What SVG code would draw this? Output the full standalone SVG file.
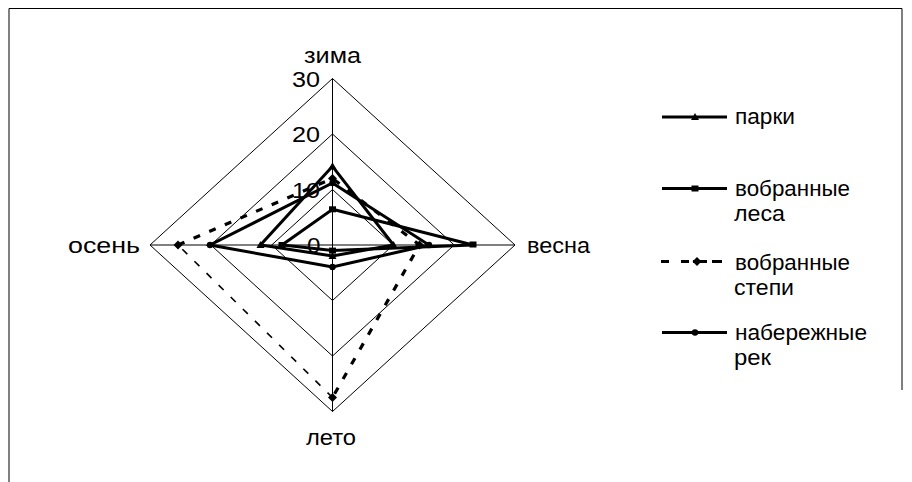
<svg xmlns="http://www.w3.org/2000/svg" width="912" height="482" viewBox="0 0 912 482">
<style>
text{font-family:"Liberation Sans",Arial,sans-serif;font-size:22px;fill:#000}
.grid{fill:none;stroke:#000;stroke-width:1}
.s{fill:none;stroke:#000;stroke-width:3;stroke-linejoin:miter}
.d{fill:none;stroke:#000;stroke-width:3.2;stroke-dasharray:7 10}
.dt{fill:none;stroke:#000;stroke-width:1.6;stroke-dasharray:7 10}
</style>
<defs>
<path id="tri" d="M0,-4 L4,3 L-4,3 Z"/>
<rect id="sq" x="-3.5" y="-3" width="7" height="6"/>
<path id="dia" d="M0,-4.5 L4.5,0 L0,4.5 L-4.5,0 Z"/>
<circle id="cir" r="3.2"/>
</defs>
<rect width="912" height="482" fill="#fff"/>
<g id="frame" fill="none" stroke="#000" stroke-width="1">
<path d="M9,482 L9,8.5 L902,8.5 L902,390"/>
</g>
<g id="grid">
<path class="grid" d="M332.5,189.5 L393.3,245 L332.5,300.5 L271.7,245 Z"/>
<path class="grid" d="M332.5,134 L454.2,245 L332.5,356 L210.8,245 Z"/>
<path class="grid" d="M332.5,78.5 L515,245 L332.5,411.5 L150,245 Z"/>
<path class="grid" d="M332.5,78.5 L332.5,411.5 M150,245 L515,245"/>
</g>
<g id="axis-labels">
<text x="304" y="63" textLength="57" lengthAdjust="spacingAndGlyphs">зима</text>
<text x="527" y="253" textLength="63" lengthAdjust="spacingAndGlyphs">весна</text>
<text x="306" y="445" textLength="50" lengthAdjust="spacingAndGlyphs">лето</text>
<text x="68" y="253" textLength="72" lengthAdjust="spacingAndGlyphs">осень</text>
<text x="292" y="87" textLength="28" lengthAdjust="spacingAndGlyphs">30</text>
<text x="292" y="142" textLength="28" lengthAdjust="spacingAndGlyphs">20</text>
<text x="292" y="198" textLength="28" lengthAdjust="spacingAndGlyphs">10</text>
<text x="307" y="253" textLength="13.5" lengthAdjust="spacingAndGlyphs">0</text>
</g>
<g id="connectors">
<g id="series-parki">
<path class="s" d="M332.5,166.3 L393.5,245 L332.5,256 L260.5,245 Z"/>
<use href="#tri" x="332.5" y="166.3"/><use href="#tri" x="393.5" y="245"/><use href="#tri" x="332.5" y="256"/><use href="#tri" x="260.5" y="245"/>
</g>
<g id="series-lesa">
<path class="s" d="M332.5,209.3 L473,245 L332.5,250.6 L282,245 Z"/>
<use href="#sq" x="332.5" y="209.3"/><use href="#sq" x="473" y="244.5"/><use href="#sq" x="332.5" y="250.6"/><use href="#sq" x="282" y="245"/>
</g>
<g id="series-stepi">
<path class="d" d="M178,245 L332.5,178.5 L419.5,245 L332.5,397.5"/>
<path class="dt" d="M332.5,397.5 L178,245"/>
<use href="#dia" x="332.5" y="178.5"/><use href="#dia" x="419.5" y="245"/><use href="#dia" x="332.5" y="397.5"/><use href="#dia" x="178" y="245"/>
</g>
<g id="series-naberezhnye">
<path class="s" d="M332.5,183 L429,245 L332.5,267 L210,245 Z"/>
<use href="#cir" x="332.5" y="183"/><use href="#cir" x="429" y="245"/><use href="#cir" x="332.5" y="267"/><use href="#cir" x="210" y="245"/>
</g>
</g>
<g id="legend">
<g id="legend-parki">
<path class="s" d="M662,117 L727,117"/><use href="#tri" x="695" y="117"/>
<text x="735" y="124" textLength="60" lengthAdjust="spacingAndGlyphs">парки</text>
</g>
<g id="legend-lesa">
<path class="s" d="M662,188.5 L727,188.5"/><use href="#sq" x="695" y="188.5"/>
<text x="735" y="196" textLength="115" lengthAdjust="spacingAndGlyphs">вобранные</text>
<text x="734" y="221" textLength="51" lengthAdjust="spacingAndGlyphs">леса</text>
</g>
<g id="legend-stepi">
<path d="M661,261.5 L727,261.5" fill="none" stroke="#000" stroke-width="3.2" stroke-dasharray="8 12 8 4 14 5 10 6 2"/><use href="#dia" x="697" y="261.5"/>
<text x="735" y="270" textLength="115" lengthAdjust="spacingAndGlyphs">вобранные</text>
<text x="734" y="295" textLength="60" lengthAdjust="spacingAndGlyphs">степи</text>
</g>
<g id="legend-naberezhnye">
<path class="s" d="M662,332.5 L727,332.5"/><use href="#cir" x="695" y="332.5"/>
<text x="735" y="340" textLength="132" lengthAdjust="spacingAndGlyphs">набережные</text>
<text x="734" y="365" textLength="37" lengthAdjust="spacingAndGlyphs">рек</text>
</g>
</g>
</svg>
